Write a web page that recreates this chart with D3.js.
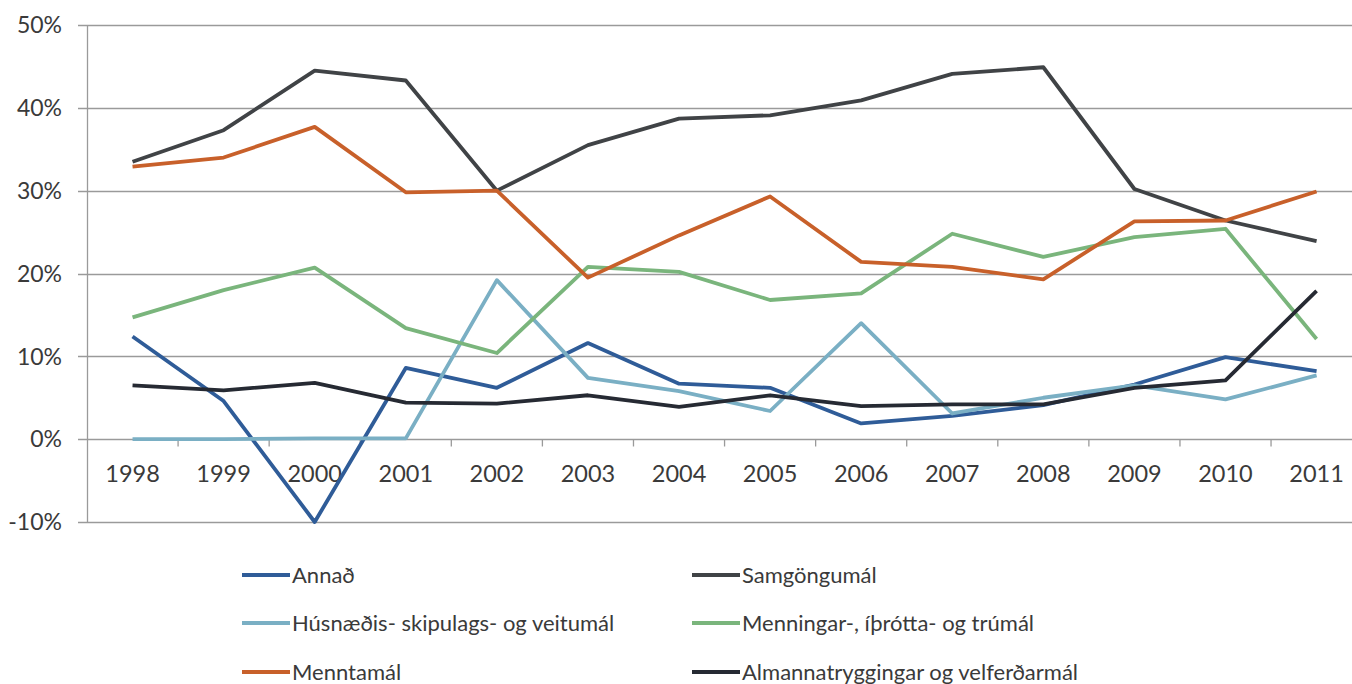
<!DOCTYPE html>
<html>
<head>
<meta charset="utf-8">
<script src="https://cdn.jsdelivr.net/npm/d3@7"></script>
<style>
  body { margin: 0; background: #fff; }
  svg text { font-family: Lato, "Open Sans", sans-serif; fill: #3a3a3a; }
</style>
</head>
<body>
<div class="canvas"></div>
<script>
// years along the category axis
var years = ["1998","1999","2000","2001","2002","2003","2004","2005","2006","2007","2008","2009","2010","2011"];

// series names, same order as legend
var names = ["Annað", "Samgöngumál", "Húsnæðis- skipulags- og veitumál",
             "Menningar-, íþrótta- og trúmál", "Menntamál", "Almannatryggingar og velferðarmál"];

// values in percent
var annad      = [12.4, 4.6, -10.0, 8.6, 6.2, 11.6, 6.7, 6.2, 1.9, 2.8, 4.1, 6.6, 9.9, 8.2];
var samgongur  = [33.5, 37.3, 44.5, 43.3, 30.0, 35.5, 38.7, 39.1, 40.9, 44.1, 44.9, 30.2, 26.4, 23.9];
var husnaedi   = [0.0, 0.0, 0.1, 0.1, 19.2, 7.4, 5.8, 3.4, 14.0, 3.1, 5.0, 6.5, 4.8, 7.7];
var menning    = [14.7, 18.0, 20.7, 13.4, 10.4, 20.8, 20.2, 16.8, 17.6, 24.8, 22.0, 24.4, 25.4, 12.1];
var mennta     = [32.9, 34.0, 37.7, 29.8, 30.0, 19.5, 24.6, 29.3, 21.4, 20.8, 19.3, 26.3, 26.4, 29.9];
var almanna    = [6.5, 5.9, 6.8, 4.4, 4.3, 5.3, 3.9, 5.3, 4.0, 4.2, 4.2, 6.2, 7.1, 17.9];

var colors = ["#2f5c98", "#404346", "#7aafc4", "#7ab57c", "#c8602a", "#262a33"];

var yTicks = [-10, 0, 10, 20, 30, 40, 50];

var series = [annad, samgongur, husnaedi, menning, mennta, almanna];

var width = 1352, height = 684;
var svg = d3.select("body div.canvas").append("svg")
	.attr("width", width)
	.attr("height", height);

var left = 87;
var bandW = 91.08;
var x = d3.scaleBand()
	.domain(years)
	.range([left, left + bandW * years.length]);
var y = d3.scaleLinear()
	.domain([-10, 50])
	.range([522, 25]);

// horizontal gridlines
svg.append("g").selectAll("line")
	.data(yTicks)
	.enter().append("line")
	.attr("x1", left - 9)
	.attr("x2", width)
	.attr("y1", function(d) { return Math.round(y(d)) + 0.5; })
	.attr("y2", function(d) { return Math.round(y(d)) + 0.5; })
	.attr("stroke", "#9a9a9a")
	.attr("stroke-width", 1.3);

// vertical axis line
svg.append("line")
	.attr("x1", left + 0.5).attr("x2", left + 0.5)
	.attr("y1", y(50)).attr("y2", y(-10))
	.attr("stroke", "#9a9a9a")
	.attr("stroke-width", 1.3);

// y labels
svg.append("g").selectAll("text")
	.data(yTicks)
	.enter().append("text")
	.attr("x", 62)
	.attr("y", function(d) { return y(d); })
	.attr("dy", "0.36em")
	.attr("text-anchor", "end")
	.style("font-size", "23px")
	.text(function(d) { return d + "%"; });

// category tick marks under the zero line
var zeroY = Math.round(y(0)) + 0.5;
svg.append("g").selectAll("line")
	.data(years.slice(1))
	.enter().append("line")
	.attr("x1", function(d) { return x(d); })
	.attr("x2", function(d) { return x(d); })
	.attr("y1", zeroY)
	.attr("y2", zeroY + 7)
	.attr("stroke", "#9a9a9a")
	.attr("stroke-width", 1.3);

// year labels
svg.append("g").selectAll("text")
	.data(years)
	.enter().append("text")
	.attr("x", function(d) { return x(d) + x.bandwidth() / 2; })
	.attr("y", 474)
	.attr("dy", "0.36em")
	.attr("text-anchor", "middle")
	.style("font-size", "23.5px")
	.text(function(d) { return d; });

// lines
var line = d3.line()
	.x(function(d, i) { return x(years[i]) + x.bandwidth() / 2; })
	.y(function(d) { return y(d); });

series.forEach(function(s, i) {
	svg.append("path")
		.attr("d", line(s))
		.attr("fill", "none")
		.attr("stroke", colors[i])
		.attr("stroke-width", 3.8)
		.attr("stroke-linejoin", "round");
});

// legend, two columns
var legX = [242, 692];
var legY = [575, 623, 672];
names.forEach(function(n, i) {
	var lx = legX[i % 2], ly = legY[Math.floor(i / 2)];
	svg.append("line")
		.attr("x1", lx).attr("x2", lx + 48)
		.attr("y1", ly).attr("y2", ly)
		.attr("stroke", colors[i])
		.attr("stroke-width", 3.8);
	svg.append("text")
		.attr("x", lx + 50)
		.attr("y", ly)
		.attr("dy", "0.36em")
		.style("font-size", "22px")
		.text(n);
});
</script>
</body>
</html>
